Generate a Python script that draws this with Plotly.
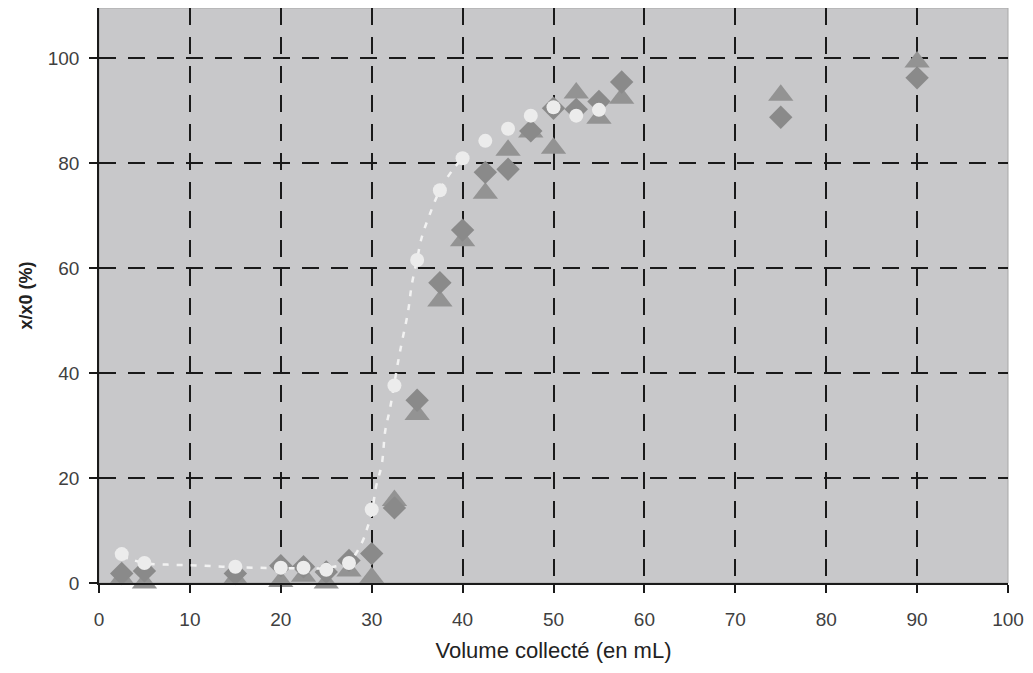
import plotly.graph_objects as go

# Circles (light)
circ_x = [2.5, 5, 15, 20, 22.5, 25, 27.5, 30, 32.5, 35, 37.5, 40, 42.5, 45, 47.5, 50, 52.5, 55]
circ_y = [5.5, 3.8, 3.1, 2.9, 2.9, 2.5, 3.8, 14.0, 37.6, 61.5, 74.8, 80.9, 84.2, 86.5, 89.0, 90.6, 89.0, 90.1]

# Diamonds (dark grey)
diam_x = [2.5, 5, 15, 20, 22.5, 25, 27.5, 30, 32.5, 35, 37.5, 40, 42.5, 45, 47.5, 50, 52.5, 55, 57.5, 75, 90]
diam_y = [1.8, 2.3, 1.8, 3.3, 3.1, 2.1, 4.3, 5.6, 14.3, 34.8, 57.2, 67.2, 78.2, 78.8, 86.1, 90.4, 90.2, 91.7, 95.4, 88.7, 96.2]

# Triangles (grey)
tri_x = [2.5, 5, 15, 20, 22.5, 25, 27.5, 30, 32.5, 35, 37.5, 40, 42.5, 45, 47.5, 50, 52.5, 55, 57.5, 75, 90]
tri_y = [0.8, 0.0, 0.8, 0.3, 1.3, 0.0, 2.3, 1.0, 15.7, 32.1, 53.7, 65.2, 74.2, 82.4, 85.9, 82.8, 93.3, 88.5, 92.3, 92.9, 99.2]

# Dashed fitted curve
fit_x = [2.5, 5, 7.5, 10, 12.5, 15, 17.5, 20, 22.5, 25, 27.5, 28.9, 29.5, 30, 30.5, 31.1, 31.5, 32, 32.9, 33.3, 34, 34.4, 35, 35.5, 36.3, 37.5, 39, 40]
fit_y = [5.1, 3.8, 3.5, 3.4, 3.2, 3.0, 2.9, 2.8, 2.8, 2.9, 4.1, 7.6, 10.4, 13.4, 18.5, 22.5, 29.1, 33.1, 42.1, 45.7, 51.7, 56.7, 61.7, 65.8, 69.8, 74.8, 78.9, 80.9]

x_ticks = [0, 10, 20, 30, 40, 50, 60, 70, 80, 90, 100]
y_ticks = [0, 20, 40, 60, 80, 100]

fig = go.Figure()
fig.add_trace(go.Scatter(x=tri_x, y=tri_y, mode="markers",
                         marker=dict(symbol="triangle-up", size=22, color="#939393"),
                         cliponaxis=False, showlegend=False))
fig.add_trace(go.Scatter(x=diam_x, y=diam_y, mode="markers",
                         marker=dict(symbol="diamond", size=18, color="#8a8a8a"),
                         cliponaxis=False, showlegend=False))
fig.add_trace(go.Scatter(x=fit_x, y=fit_y, mode="lines",
                         line=dict(color="#f2f2f2", width=2.5, dash="6px,8px", shape="spline"),
                         showlegend=False))
fig.add_trace(go.Scatter(x=circ_x, y=circ_y, mode="markers",
                         marker=dict(symbol="circle", size=14, color="#ececec"),
                         cliponaxis=False, showlegend=False))

grid = dict(showgrid=True, gridcolor="#1a1a1a", gridwidth=2, griddash="17px,12px")

fig.update_layout(
    width=1033, height=673,
    margin=dict(l=91, r=33, t=0, b=98),
    paper_bgcolor="white",
    plot_bgcolor="#c8c8ca",
    font=dict(family="Liberation Sans, Arial, sans-serif", color="#404040", size=19),
    xaxis=dict(range=[0, 100], tickvals=x_ticks, ticks="outside", ticklen=8,
               tickcolor="#1a1a1a", tickwidth=1.5, ticklabelstandoff=10,
               showline=True, linecolor="#1a1a1a", linewidth=1.5, zeroline=False,
               automargin=False,
               title=dict(text="Volume collecté (en mL)", font=dict(size=22, color="#222222"), standoff=14),
               **grid),
    yaxis=dict(range=[0, 109.5], tickvals=y_ticks, ticks="outside", ticklen=8,
               tickcolor="#1a1a1a", tickwidth=1.5, ticklabelstandoff=6,
               showline=True, linecolor="#1a1a1a", linewidth=1.5, zeroline=False,
               automargin=False,
               title=dict(text="<b>x/x0 (%)</b>", font=dict(size=18, color="#222222"), standoff=10),
               **grid),
    shapes=[dict(type="rect", xref="paper", yref="paper", x0=0, x1=1, y0=0, y1=1,
                 line=dict(color="#a8a8a8", width=1), layer="below")],
)

fig.write_html("out.html")
